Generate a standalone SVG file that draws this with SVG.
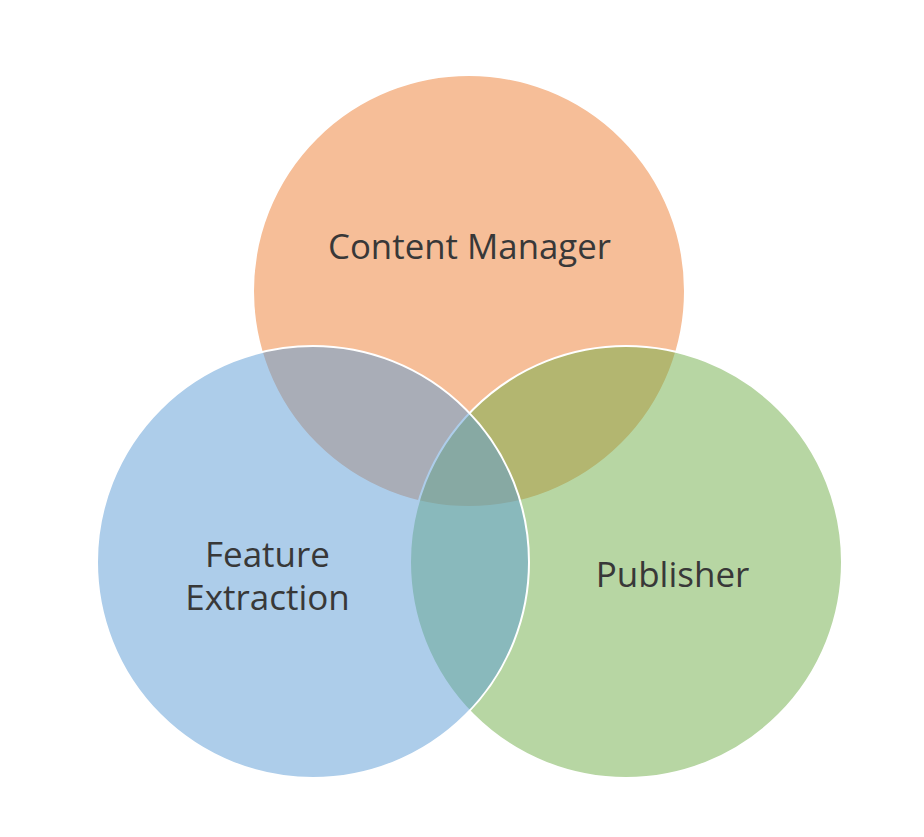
<svg xmlns="http://www.w3.org/2000/svg" width="924" height="837" viewBox="0 0 924 837">
  <style>
    .c { stroke: #FFFFFF; stroke-width: 2; fill-opacity: 0.5; }
    .lbl { font-family: "Open Sans", "Liberation Sans", sans-serif; font-size: 35px; fill: #383838; text-anchor: middle; }
  </style>
  <rect width="924" height="837" fill="#FFFFFF"/>
  <g id="content-manager">
    <circle class="c" cx="469" cy="291" r="216" fill="#ED7D31"/>
  </g>
  <g id="publisher">
    <circle class="c" cx="626" cy="562" r="216" fill="#70AD47"/>
  </g>
  <g id="feature-extraction">
    <circle class="c" cx="313" cy="562" r="216" fill="#5B9BD5"/>
  </g>
  <g id="labels">
    <text class="lbl" x="469.5" y="259" textLength="283" lengthAdjust="spacingAndGlyphs">Content Manager</text>
    <text class="lbl" x="267.5" y="567">Feature</text>
    <text class="lbl" x="267.5" y="610">Extraction</text>
    <text class="lbl" x="672.5" y="587">Publisher</text>
  </g>
</svg>
